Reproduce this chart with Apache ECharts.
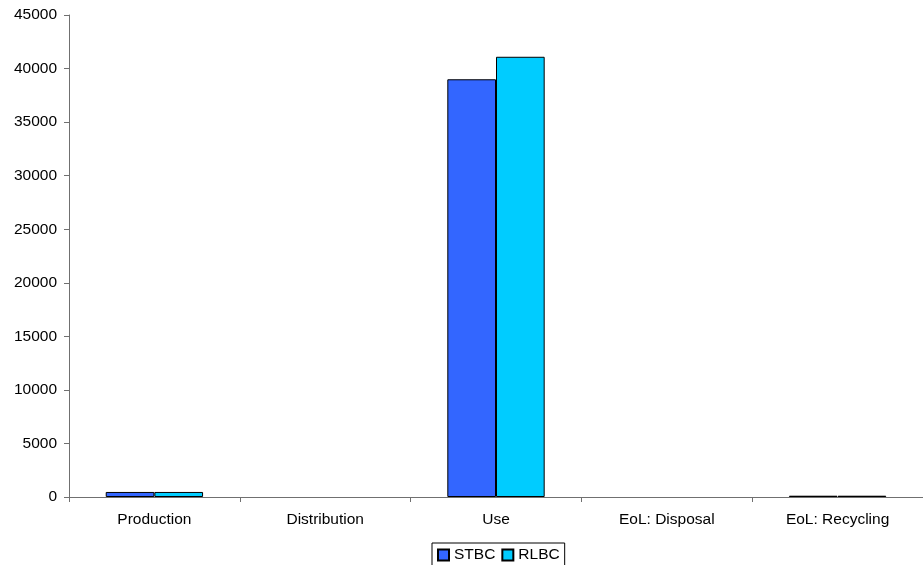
<!DOCTYPE html>
<html>
<head>
<meta charset="utf-8">
<script src="https://cdn.jsdelivr.net/npm/echarts@6/dist/echarts.min.js"></script>
<style>html,body{margin:0;padding:0;background:#fff;}#c{width:923px;height:565px;}</style>
</head>
<body>
<div id="c"></div>
<script>
const categories = ['Production', 'Distribution', 'Use', 'EoL: Disposal', 'EoL: Recycling'];
const stbc = [470, 0, 39000, 0, 120];
const rlbc = [470, 0, 41100, 0, 120];
const yTicks = { min: 0, max: 45000, interval: 5000 };

function toItems(arr) {
  return arr.map(v => v === 0 ? { value: v, itemStyle: { borderWidth: 0 } } : v);
}

const chart = echarts.init(document.getElementById('c'));
const font = 'Liberation Sans, Arial, sans-serif';
chart.setOption({
  animation: false,
  textStyle: { fontFamily: font },
  grid: { left: 69, top: 15, width: 855, bottom: 68, containLabel: false },
  legend: {
    left: 432, top: 543,
    padding: [4, 5, 6, 5],
    borderColor: '#000', borderWidth: 1,
    itemWidth: 11, itemHeight: 11, itemGap: 6,
    icon: 'rect',
    textStyle: { fontFamily: font, fontSize: 15.5, color: '#000' },
    data: ['STBC', 'RLBC']
  },
  xAxis: {
    type: 'category', data: categories,
    axisLine: { lineStyle: { color: '#707070', width: 1 } },
    axisTick: { show: true, length: 5, lineStyle: { color: '#707070' } },
    axisLabel: { color: '#000', fontSize: 15.5, fontFamily: font, margin: 15 }
  },
  yAxis: {
    type: 'value', min: yTicks.min, max: yTicks.max, interval: yTicks.interval,
    splitLine: { show: false },
    axisLine: { show: true, lineStyle: { color: '#707070', width: 1 } },
    axisTick: { show: true, length: 5, lineStyle: { color: '#707070' } },
    axisLabel: { color: '#000', fontSize: 15.5, fontFamily: font, margin: 12,
      formatter: v => String(v) }
  },
  series: [
    { name: 'STBC', type: 'bar', data: toItems(stbc), barGap: '0%', barCategoryGap: '43%',
      itemStyle: { color: '#3366FF', borderColor: '#000', borderWidth: 1 } },
    { name: 'RLBC', type: 'bar', data: toItems(rlbc), barGap: '0%', barCategoryGap: '43%',
      itemStyle: { color: '#00CCFF', borderColor: '#000', borderWidth: 1 } }
  ]
});
</script>
</body>
</html>
